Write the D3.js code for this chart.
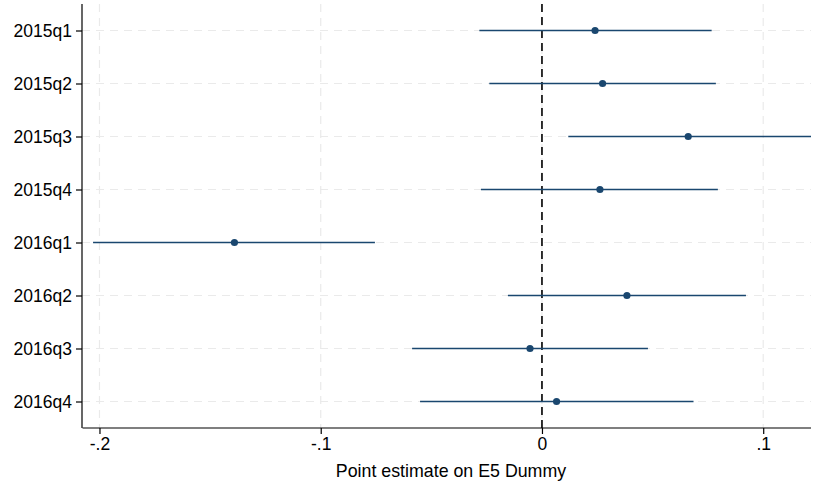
<!DOCTYPE html>
<html>
<head>
<meta charset="utf-8">
<script src="https://cdn.jsdelivr.net/npm/d3@7"></script>
<style>
  body { margin: 0; background: #fff; }
  svg { display: block; font-family: "Liberation Sans", Arial, sans-serif; }
</style>
</head>
<body>
<div id="chart"></div>
<script>
// quarters and coefficient estimates with 95% CI
const quarters = ['2015q1', '2015q2', '2015q3', '2015q4', '2016q1', '2016q2', '2016q3', '2016q4'];
const estimates = [0.024, 0.0274, 0.0661, 0.0262, -0.139, 0.0384, -0.0054, 0.0066];
const lower = [-0.0283, -0.0238, 0.0119, -0.0276, -0.2029, -0.0154, -0.0587, -0.0551];
const upper = [0.0767, 0.0786, 0.125, 0.0795, -0.0755, 0.0922, 0.0479, 0.0685];
const xTicks = [-0.2, -0.1, 0, 0.1];
const xTickLabels = ['-.2', '-.1', '0', '.1'];

const width = 813, height = 487;
const margin = { top: 4, right: 2, bottom: 59, left: 82 };
const w = width - margin.left - margin.right;
const h = height - margin.top - margin.bottom;

const svg = d3.select('#chart').append('svg')
    .attr('width', width)
    .attr('height', height);

const g = svg.append('g')
    .attr('transform', `translate(${margin.left},${margin.top})`);

const x = d3.scaleLinear().domain([-0.2079, 0.1216]).range([0, w]);
const y = d3.scalePoint().domain(quarters).range([0, h]).padding(0.5);

const data = quarters.map((q, i) => ({ q, est: estimates[i], lo: lower[i], hi: upper[i] }));

// grid
g.selectAll('.vgrid').data(xTicks).enter().append('line')
    .attr('x1', d => x(d)).attr('x2', d => x(d))
    .attr('y1', 0).attr('y2', h)
    .attr('stroke', '#eaeaea').attr('stroke-width', 1.2)
    .attr('stroke-dasharray', '8,6');

g.selectAll('.hgrid').data(quarters).enter().append('line')
    .attr('x1', 0).attr('x2', w)
    .attr('y1', d => y(d)).attr('y2', d => y(d))
    .attr('stroke', '#eaeaea').attr('stroke-width', 1.2)
    .attr('stroke-dasharray', '8,6');

// zero reference line
g.append('line')
    .attr('x1', x(0)).attr('x2', x(0))
    .attr('y1', 0).attr('y2', h)
    .attr('stroke', '#000').attr('stroke-width', 1.6)
    .attr('stroke-dasharray', '8,5');

svg.append('clipPath').attr('id', 'clip')
    .append('rect').attr('width', w).attr('height', h);

const marks = g.append('g').attr('clip-path', 'url(#clip)');

marks.selectAll('.ci').data(data).enter().append('line')
    .attr('x1', d => x(d.lo)).attr('x2', d => x(d.hi))
    .attr('y1', d => y(d.q)).attr('y2', d => y(d.q))
    .attr('stroke', '#1a476f').attr('stroke-width', 1.6);

marks.selectAll('.pt').data(data).enter().append('circle')
    .attr('cx', d => x(d.est)).attr('cy', d => y(d.q))
    .attr('r', 3.6)
    .attr('fill', '#1a476f');

// axes
const xAxis = g.append('g')
    .attr('transform', `translate(0,${h})`)
    .call(d3.axisBottom(x).tickValues(xTicks)
        .tickFormat((d, i) => xTickLabels[i]).tickSize(6).tickPadding(4));

const yAxis = g.append('g')
    .call(d3.axisLeft(y).tickSize(6).tickPadding(4));

[xAxis, yAxis].forEach(a => {
    a.select('.domain').attr('stroke', '#000').attr('stroke-width', 1.2);
    a.selectAll('.tick line').attr('stroke', '#000').attr('stroke-width', 1.2);
    a.selectAll('.tick text').attr('fill', '#000').style('font-size', '17.5px')
        .style('font-family', '"Liberation Sans", Arial, sans-serif');
});
xAxis.select('.domain').attr('d', `M0.5,0H${w}`);
yAxis.select('.domain').attr('d', `M0,0V${h}`);

svg.append('text')
    .attr('x', 451)
    .attr('y', 477)
    .attr('text-anchor', 'middle')
    .style('font-size', '17.8px')
    .text('Point estimate on E5 Dummy');
</script>
</body>
</html>
